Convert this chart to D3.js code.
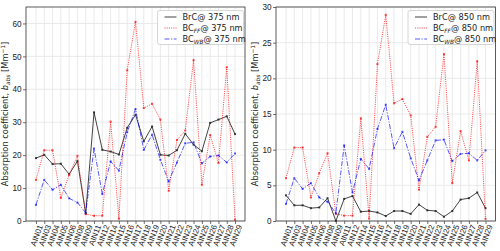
<!DOCTYPE html>
<html>
<head>
<meta charset="utf-8">
<script src="https://cdn.jsdelivr.net/npm/d3@7"></script>
<style>
  body { margin: 0; background: #fff; }
  svg { font-family: "DejaVu Sans", sans-serif; }
  .grid line { stroke: #e4e4e4; stroke-width: 0.8; }
  .tick text { fill: #222; }
</style>
</head>
<body>
<svg id="chart" width="500" height="251"></svg>
<script>
// Sample sites
const sites = ["AIN01", "AIN03", "AIN04", "AIN05", "AIN06", "AIN08", "AIN09", "AIN11", "AIN12",
  "AIN14", "AIN15", "AIN16", "AIN17", "AIN18", "AIN19", "AIN20", "AIN21", "AIN22", "AIN23",
  "AIN24", "AIN25", "AIN26", "AIN27", "AIN28", "AIN29"];

// 375 nm
const brc375 = [19.1, 20.1, 17.3, 17.4, 14.2, 18.2, 2.3, 33.0, 21.6, 21.1, 20.2, 28.3, 32.3,
  24.2, 28.7, 20.1, 19.9, 21.5, 26.5, 23.2, 21.2, 29.8, 30.8, 31.8, 26.4];
const bcff375 = [12.5, 21.5, 21.5, 7.0, 14.0, 19.8, 2.1, 1.6, 1.6, 30.2, 0.7, 45.8, 60.5,
  34.3, 35.6, 30.8, 9.2, 24.6, 27.5, 48.9, 11.0, 26.1, 17.6, 46.7, 0.4];
const bcwb375 = [4.9, 12.5, 9.5, 11.0, 6.9, 5.6, 2.5, 22.0, 8.2, 18.1, 15.3, 27.0, 34.0,
  21.6, 26.2, 18.6, 12.0, 17.8, 23.6, 23.9, 17.5, 19.6, 19.9, 17.8, 20.5];

// 850 nm
const brc850 = [3.6, 2.2, 2.2, 1.8, 1.9, 3.2, 0.0, 3.1, 3.5, 1.3, 1.4, 1.2, 0.7,
  1.4, 1.4, 1.0, 2.3, 1.5, 1.4, 0.6, 1.4, 3.0, 3.2, 4.0, 1.8];
const bcff850 = [6.0, 10.3, 10.3, 3.3, 6.7, 9.5, 1.0, 0.75, 0.75, 14.4, 0.35, 22.0, 28.9,
  16.5, 17.1, 14.8, 4.4, 11.8, 13.2, 23.4, 5.3, 12.6, 8.5, 22.4, 0.3];
const bcwb850 = [2.4, 6.0, 4.5, 5.3, 3.3, 2.7, 1.1, 10.6, 4.0, 8.7, 7.3, 12.9, 16.3,
  10.2, 12.5, 8.8, 5.7, 8.5, 11.3, 11.4, 8.4, 9.4, 9.5, 8.5, 9.9];

const yTicks375 = [0, 10, 20, 30, 40, 50, 60];
const yTicks850 = [0, 5, 10, 15, 20, 25, 30];

const svg = d3.select("#chart");

const panels = [
  { left: 26, right: 245, ymax: 65, ticks: yTicks375, wl: "375", data: [brc375, bcff375, bcwb375] },
  { left: 276, right: 495.5, ymax: 30, ticks: yTicks850, wl: "850", data: [brc850, bcff850, bcwb850] },
];

const plotTop = 7, plotBottom = 221;

const styles = [
  { color: "#222", dash: null, opacity: 0.85 },
  { color: "#ff0000", dash: "1.1,1.1", opacity: 0.7 },
  { color: "#0000ff", dash: "5,1.5,1.2,1.5", opacity: 0.65 },
];

panels.forEach((p) => {
  const w = p.right - p.left;
  const g = svg.append("g").attr("transform", `translate(${p.left},0)`);

  const x = d3.scalePoint().domain(sites).range([0, w]).padding(1.2);
  const y = d3.scaleLinear().domain([0, p.ymax]).range([plotBottom, plotTop]);

  // grid
  g.append("g").attr("class", "grid")
    .selectAll("line").data(sites).join("line")
    .attr("x1", (d) => x(d)).attr("x2", (d) => x(d))
    .attr("y1", plotTop).attr("y2", plotBottom);
  g.append("g").attr("class", "grid")
    .selectAll("line").data(p.ticks).join("line")
    .attr("x1", 0).attr("x2", w)
    .attr("y1", (d) => y(d)).attr("y2", (d) => y(d));

  // axes
  const xAxis = g.append("g")
    .attr("transform", `translate(0,${plotBottom})`)
    .call(d3.axisBottom(x).tickSize(3).tickSizeOuter(0));
  xAxis.select(".domain").remove();
  xAxis.selectAll(".tick line").attr("stroke", "#333").attr("stroke-width", 0.7);
  xAxis.selectAll(".tick text")
    .attr("font-size", 8)
    .attr("text-anchor", "end")
    .attr("transform", "translate(4,4) rotate(-70)")
    .attr("x", 0).attr("y", 0).attr("dy", "0.35em");

  const yAxis = g.append("g")
    .call(d3.axisLeft(y).tickValues(p.ticks).tickSize(3).tickSizeOuter(0));
  yAxis.select(".domain").remove();
  yAxis.selectAll(".tick line").attr("stroke", "#333").attr("stroke-width", 0.7);
  yAxis.selectAll(".tick text").attr("font-size", 8.2).attr("x", -4.5);

  // series
  p.data.forEach((vals, i) => {
    const s = styles[i];
    const pts = sites.map((d, k) => [x(d), y(vals[k])]);
    g.append("path")
      .attr("d", d3.line()(pts))
      .attr("fill", "none")
      .attr("stroke", s.color)
      .attr("stroke-opacity", s.opacity)
      .attr("stroke-width", 1)
      .attr("stroke-dasharray", s.dash);
    g.append("g").selectAll("rect").data(pts).join("rect")
      .attr("x", (d) => d[0] - 1).attr("y", (d) => d[1] - 1)
      .attr("width", 2).attr("height", 2)
      .attr("fill", s.color).attr("fill-opacity", s.opacity);
  });

  // frame
  g.append("rect")
    .attr("x", 0).attr("y", plotTop).attr("width", w).attr("height", plotBottom - plotTop)
    .attr("fill", "none").attr("stroke", "#333").attr("stroke-width", 0.8);

  // y label
  const yl = svg.append("text")
    .attr("transform", `translate(${p.left - 18},${(plotTop + plotBottom) / 2}) rotate(-90)`)
    .attr("text-anchor", "middle")
    .attr("font-size", 8.3)
    .attr("fill", "#222");
  yl.append("tspan").text("Absorption coefficient, ");
  yl.append("tspan").attr("font-style", "italic").text("b");
  yl.append("tspan").attr("font-style", "italic").attr("font-size", 5.8).attr("dy", 2).text("abs");
  yl.append("tspan").attr("dy", -2).text("  [Mm");
  yl.append("tspan").attr("font-size", 5.8).attr("dy", -3).text("\u22121");
  yl.append("tspan").attr("dy", 3).text("]");

  // legend
  const lx = w - 87.5, ly = 10.5;
  const leg = g.append("g").attr("transform", `translate(${lx},${ly})`);
  leg.append("rect")
    .attr("width", 86).attr("height", 34).attr("rx", 2)
    .attr("fill", "#fff").attr("fill-opacity", 0.85)
    .attr("stroke", "#ccc").attr("stroke-width", 0.8);
  const labels = [["BrC", null], ["BC", "FF"], ["BC", "WB"]];
  labels.forEach((lab, i) => {
    const s = styles[i];
    const yy = 6.5 + i * 11;
    leg.append("line")
      .attr("x1", 7).attr("x2", 19).attr("y1", yy).attr("y2", yy)
      .attr("stroke", s.color).attr("stroke-opacity", s.opacity)
      .attr("stroke-width", 1).attr("stroke-dasharray", s.dash);
    const t = leg.append("text")
      .attr("x", 25).attr("y", yy).attr("dy", "0.35em")
      .attr("font-size", 8.2).attr("fill", "#222");
    t.append("tspan").text(lab[0]);
    if (lab[1]) {
      t.append("tspan").attr("font-style", "italic").attr("font-size", 5.8).attr("dy", 2).text(lab[1]);
      t.append("tspan").attr("dy", -2).text(`@ ${p.wl} nm`);
    } else {
      t.append("tspan").text(`@ ${p.wl} nm`);
    }
  });
});
</script>
</body>
</html>
